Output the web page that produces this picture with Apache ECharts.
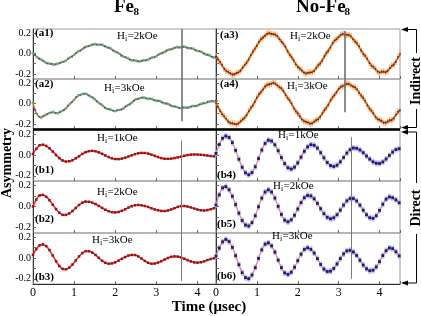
<!DOCTYPE html>
<html><head><meta charset="utf-8">
<script src="https://cdn.jsdelivr.net/npm/echarts@6/dist/echarts.min.js"></script>
<style>html,body{margin:0;padding:0;background:#fff}#c{width:421px;height:316px}</style>
</head><body><div id="c"></div>
<script>
// ---- time grids (µsec) ----
const tFit=[0,0.1,0.2,0.3,0.4,0.5,0.6,0.7,0.8,0.9,1,1.1,1.2,1.3,1.4,1.5,1.6,1.7,1.8,1.9,2,2.1,2.2,2.3,2.4,2.5,2.6,2.7,2.8,2.9,3,3.1,3.2,3.3,3.4,3.5,3.6,3.7,3.8,3.9,4,4.1,4.2,4.3,4.4,4.5];
const tOff=[0.05,0.15,0.25,0.35,0.45,0.55,0.65,0.75,0.85,0.95,1.05,1.15,1.25,1.35,1.45,1.55,1.65,1.75,1.85,1.95,2.05,2.15,2.25,2.35,2.45,2.55,2.65,2.75,2.85,2.95,3.05,3.15,3.25,3.35,3.45,3.55,3.65,3.75,3.85,3.95,4.05,4.15,4.25,4.35,4.45];
const tB=[0,0.08,0.16,0.24,0.32,0.4,0.48,0.56,0.64,0.72,0.8,0.88,0.96,1.04,1.12,1.2,1.28,1.36,1.44,1.52,1.6,1.68,1.76,1.84,1.92,2,2.08,2.16,2.24,2.32,2.4,2.48,2.56,2.64,2.72,2.8,2.88,2.96,3.04,3.12,3.2,3.28,3.36,3.44,3.52,3.6,3.68,3.76,3.84,3.92,4,4.08,4.16,4.24,4.32,4.4,4.48];
const xTicks=[0,1,2,3,4];
const yTicks=[-0.2,0,0.2];
const fieldLabels=['1kOe','2kOe','3kOe'];

// ---- Fe8, indirect ----
const a1Fit=[0,-0.034,-0.063,-0.086,-0.101,-0.106,-0.101,-0.088,-0.067,-0.041,-0.012,0.017,0.044,0.066,0.081,0.088,0.088,0.079,0.064,0.043,0.020,-0.005,-0.028,-0.048,-0.063,-0.072,-0.075,-0.070,-0.059,-0.043,-0.024,-0.004,0.017,0.034,0.049,0.059,0.063,0.061,0.054,0.042,0.028,0.011,-0.007,-0.023,-0.036,-0.046];
const a1Green=[0.003,-0.040,-0.057,-0.089,-0.096,-0.112,-0.099,-0.082,-0.072,-0.038,-0.016,0.022,0.041,0.070,0.078,0.093,0.085,0.083,0.059,0.047,0.016,-0.001,-0.033,-0.045,-0.068,-0.069,-0.080,-0.066,-0.063,-0.039,-0.028,0.001,0.013,0.038,0.045,0.064,0.059,0.066,0.050,0.047,0.024,0.015,-0.011,-0.019,-0.041,-0.042];
const a1Blue=[-0.014,-0.053,-0.071,-0.098,-0.101,-0.108,-0.091,-0.081,-0.050,-0.031,0.006,0.027,0.059,0.071,0.089,0.086,0.088,0.069,0.057,0.028,0.011,-0.021,-0.035,-0.060,-0.065,-0.078,-0.070,-0.068,-0.047,-0.037,-0.010,0.003,0.030,0.039,0.058,0.057,0.067,0.055,0.052,0.031,0.024,-0.002,-0.012,-0.034,-0.038];
const a2Fit=[0.005,-0.110,-0.135,-0.115,-0.090,-0.088,-0.093,-0.078,-0.045,-0.005,0.040,0.075,0.094,0.090,0.070,0.040,0.008,-0.025,-0.050,-0.065,-0.071,-0.065,-0.045,-0.020,0.010,0.038,0.053,0.055,0.048,0.040,0.030,0.018,0.005,-0.010,-0.025,-0.038,-0.043,-0.042,-0.036,-0.028,-0.018,-0.006,0.006,0.016,0.022,0.025];
const a2Green=[0.008,-0.104,-0.140,-0.111,-0.094,-0.083,-0.097,-0.074,-0.049,-0.001,0.036,0.079,0.091,0.095,0.066,0.044,0.004,-0.021,-0.054,-0.061,-0.075,-0.062,-0.049,-0.016,0.006,0.042,0.050,0.059,0.044,0.044,0.026,0.022,0.001,-0.006,-0.029,-0.034,-0.047,-0.038,-0.040,-0.024,-0.022,-0.002,0.003,0.021,0.019,0.029];
const a2Blue=[-0.063,-0.131,-0.123,-0.106,-0.086,-0.094,-0.083,-0.066,-0.021,0.014,0.062,0.082,0.097,0.078,0.060,0.020,-0.005,-0.042,-0.055,-0.072,-0.066,-0.060,-0.029,-0.009,0.028,0.043,0.058,0.049,0.048,0.031,0.028,0.009,0.001,-0.022,-0.028,-0.045,-0.039,-0.043,-0.028,-0.026,-0.008,0.006,0.018,0.027,0.031];

// ---- No-Fe8, indirect ----
const a3Fit=[-0.021,-0.089,-0.146,-0.185,-0.202,-0.196,-0.166,-0.117,-0.055,0.014,0.080,0.137,0.178,0.197,0.193,0.166,0.121,0.060,-0.007,-0.072,-0.128,-0.171,-0.192,-0.190,-0.167,-0.121,-0.064,0.000,0.064,0.122,0.165,0.187,0.187,0.164,0.123,0.065,0.001,-0.057,-0.114,-0.157,-0.181,-0.184,-0.165,-0.127,-0.074,-0.013];
const a3PtsA=[-0.028,-0.083,-0.152,-0.180,-0.209,-0.190,-0.171,-0.111,-0.061,0.019,0.074,0.142,0.172,0.203,0.188,0.172,0.115,0.066,-0.013,-0.066,-0.135,-0.165,-0.199,-0.184,-0.173,-0.114,-0.070,0.006,0.057,0.129,0.158,0.194,0.180,0.171,0.116,0.072,-0.006,-0.050,-0.122,-0.149,-0.190,-0.176,-0.174,-0.118,-0.083,-0.004];
const a3PtsB=[-0.058,-0.113,-0.171,-0.191,-0.206,-0.186,-0.139,-0.092,-0.017,0.043,0.115,0.155,0.194,0.192,0.187,0.140,0.097,0.022,-0.035,-0.106,-0.146,-0.188,-0.187,-0.185,-0.140,-0.100,-0.027,0.026,0.101,0.139,0.184,0.183,0.184,0.138,0.102,0.027,-0.022,-0.094,-0.129,-0.180,-0.176,-0.186,-0.139,-0.112,-0.033];
const a4Fit=[0.000,-0.069,-0.129,-0.174,-0.199,-0.201,-0.179,-0.138,-0.080,-0.014,0.054,0.115,0.163,0.191,0.198,0.181,0.144,0.090,0.027,-0.040,-0.101,-0.152,-0.183,-0.194,-0.182,-0.150,-0.100,-0.039,0.026,0.087,0.139,0.174,0.189,0.182,0.154,0.109,0.051,-0.013,-0.074,-0.127,-0.165,-0.183,-0.181,-0.157,-0.116,-0.061];
const a4PtsA=[0.004,-0.074,-0.123,-0.179,-0.193,-0.207,-0.173,-0.143,-0.074,-0.020,0.059,0.109,0.169,0.186,0.204,0.176,0.150,0.084,0.033,-0.046,-0.095,-0.158,-0.177,-0.200,-0.176,-0.156,-0.094,-0.045,0.032,0.081,0.145,0.168,0.195,0.176,0.160,0.103,0.057,-0.019,-0.068,-0.133,-0.159,-0.190,-0.174,-0.164,-0.109,-0.068];
const a4PtsB=[-0.031,-0.105,-0.148,-0.193,-0.197,-0.198,-0.155,-0.115,-0.042,0.015,0.091,0.136,0.185,0.192,0.198,0.158,0.124,0.053,-0.001,-0.077,-0.122,-0.175,-0.185,-0.196,-0.161,-0.132,-0.064,-0.013,0.063,0.108,0.164,0.178,0.194,0.164,0.139,0.074,0.026,-0.050,-0.094,-0.155,-0.169,-0.193,-0.162,-0.149,-0.079];

// ---- direct (b panels) ----
const b1=[0.010,0.060,0.093,0.099,0.087,0.064,0.033,0.000,-0.030,-0.053,-0.063,-0.060,-0.050,-0.032,-0.012,0.010,0.027,0.037,0.040,0.035,0.025,0.011,-0.005,-0.020,-0.032,-0.039,-0.040,-0.035,-0.027,-0.015,-0.003,0.008,0.016,0.020,0.019,0.013,0.003,-0.009,-0.020,-0.030,-0.036,-0.037,-0.035,-0.030,-0.023,-0.016,-0.008,-0.001,0.003,0.005,0.004,0.002,-0.001,-0.005,-0.010,-0.013];
const b2=[0.000,0.065,0.104,0.109,0.092,0.059,0.017,-0.025,-0.059,-0.079,-0.079,-0.066,-0.043,-0.014,0.014,0.036,0.046,0.044,0.036,0.023,0.005,-0.013,-0.031,-0.045,-0.054,-0.056,-0.052,-0.041,-0.027,-0.011,0.002,0.011,0.014,0.011,0.004,-0.005,-0.017,-0.028,-0.036,-0.042,-0.043,-0.038,-0.028,-0.016,-0.004,0.003,0.004,-0.001,-0.009,-0.020,-0.029,-0.036,-0.038,-0.034,-0.026,-0.017];
const b3=[0.030,0.085,0.122,0.130,0.114,0.076,0.024,-0.031,-0.077,-0.105,-0.109,-0.093,-0.063,-0.024,0.015,0.047,0.065,0.065,0.052,0.029,0.001,-0.027,-0.047,-0.055,-0.052,-0.042,-0.026,-0.008,0.009,0.023,0.029,0.028,0.015,-0.006,-0.028,-0.046,-0.055,-0.053,-0.044,-0.031,-0.015,0.000,0.011,0.015,0.013,0.005,-0.007,-0.021,-0.033,-0.042,-0.045,-0.041,-0.032,-0.020,-0.010,-0.003];
const b4=[0.015,0.100,0.160,0.182,0.168,0.119,0.044,-0.041,-0.118,-0.171,-0.190,-0.169,-0.113,-0.034,0.047,0.111,0.142,0.134,0.098,0.041,-0.025,-0.083,-0.123,-0.135,-0.117,-0.076,-0.021,0.035,0.078,0.099,0.093,0.066,0.022,-0.027,-0.072,-0.102,-0.111,-0.098,-0.066,-0.024,0.018,0.051,0.067,0.064,0.048,0.022,-0.010,-0.040,-0.066,-0.080,-0.082,-0.067,-0.039,-0.005,0.028,0.052,0.060];
const b5=[0.014,0.110,0.175,0.187,0.157,0.096,0.018,-0.063,-0.132,-0.175,-0.184,-0.152,-0.087,-0.003,0.078,0.136,0.157,0.136,0.079,0.001,-0.075,-0.129,-0.145,-0.126,-0.083,-0.024,0.036,0.082,0.104,0.099,0.072,0.029,-0.021,-0.068,-0.102,-0.116,-0.107,-0.078,-0.034,0.013,0.053,0.075,0.075,0.052,0.012,-0.035,-0.078,-0.106,-0.112,-0.087,-0.037,0.021,0.069,0.090,0.082,0.062,0.035];
const b6=[0.019,0.095,0.155,0.178,0.158,0.102,0.022,-0.065,-0.141,-0.189,-0.199,-0.164,-0.093,-0.004,0.078,0.133,0.145,0.116,0.056,-0.021,-0.093,-0.143,-0.158,-0.137,-0.089,-0.026,0.036,0.082,0.098,0.084,0.047,-0.006,-0.062,-0.107,-0.130,-0.127,-0.101,-0.057,-0.006,0.039,0.068,0.074,0.058,0.024,-0.022,-0.068,-0.104,-0.122,-0.118,-0.086,-0.035,0.023,0.070,0.096,0.090,0.060,0.020];

// ---- layout / style ----
const serif='"Liberation Serif","Times New Roman",serif';
const rows=[[29,50],[79,50],[130,51],[181,52],[233,51]];
const cols=[[33,183,4.45],[216,184,4.5]];
const panels=[
 {kind:'aL',col:0,row:0,fit:a1Fit,p:a1Green,q:a1Blue,tag:'(a1)',tx:35,ty:33,h:1,hx:117,hy:36,mx:3.61,my:[0.24,-0.25],mw:1.6},
 {kind:'aL',col:0,row:1,fit:a2Fit,p:a2Green,q:a2Blue,tag:'(a2)',tx:35,ty:84,h:2,hx:104,hy:88,mx:3.61,my:[0.24,-0.175],mw:1.6},
 {kind:'bL',col:0,row:2,v:b1,tag:'(b1)',tx:35,ty:170,h:0,hx:97,hy:138,mx:3.61,my:[0.14,-0.25],mw:1},
 {kind:'bL',col:0,row:3,v:b2,tag:'(b2)',tx:35,ty:219,h:1,hx:97,hy:192,mx:3.61,my:[0.24,-0.25],mw:1},
 {kind:'bL',col:0,row:4,v:b3,tag:'(b3)',tx:35,ty:277,h:2,hx:92,hy:240,mx:3.61,my:[0.24,-0.22],mw:1},
 {kind:'aR',col:1,row:0,fit:a3Fit,p:a3PtsA,q:a3PtsB,tag:'(a3)',tx:220,ty:35,h:1,hx:290,hy:36,mx:3.16,my:[0.22,-0.25],mw:1.6},
 {kind:'aR',col:1,row:1,fit:a4Fit,p:a4PtsA,q:a4PtsB,tag:'(a4)',tx:220,ty:84,h:2,hx:287,hy:86,mx:3.16,my:[0.24,-0.085],mw:1.6},
 {kind:'bR',col:1,row:2,v:b4,tag:'(b4)',tx:217,ty:175,h:0,hx:278,hy:135,mx:3.3,my:[0.17,-0.25],mw:1},
 {kind:'bR',col:1,row:3,v:b5,tag:'(b5)',tx:217,ty:224,h:1,hx:273,hy:186,mx:3.3,my:[0.24,-0.25],mw:1},
 {kind:'bR',col:1,row:4,v:b6,tag:'(b6)',tx:217,ty:276,h:2,hx:272,hy:236,mx:3.3,my:[0.24,-0.2],mw:1}
];
const pts=(t,v)=>v.map((y,i)=>[t[i],y]);

const grid=[],xAxis=[],yAxis=[],series=[],graphic=[];
function txt(x,y,text,font,align,extra){
  return Object.assign({type:'text',x:x,y:y,z:100,silent:true,style:{text:text,font:font,fill:'#000',align:align||'left',verticalAlign:'middle',textAlign:align||'left',textVerticalAlign:'middle'}},extra||{});
}
function line(x1,y1,x2,y2,w){return {type:'line',z:100,silent:true,shape:{x1:x1,y1:y1,x2:x2,y2:y2},style:{stroke:'#000',lineWidth:w||1}};}
function arrow(x,y){return {type:'polygon',z:100,silent:true,shape:{points:[[x,y],[x+7,y-2.6],[x+7,y+2.6]]},style:{fill:'#000'}};}

panels.forEach((p,i)=>{
  const [top,h]=rows[p.row]; const [left,w,max]=cols[p.col];
  grid.push({left:left,top:top,width:w,height:h,show:true,borderColor:'#9c9c9c',borderWidth:1});
  xAxis.push({type:'value',gridIndex:i,min:0,max:max,interval:1,position:'bottom',
    axisLine:{show:p.row===4,onZero:false,lineStyle:{color:'#333'}},
    axisTick:{show:true,inside:true,length:3,lineStyle:{color:'#666'}},
    axisLabel:{show:p.row===4,customValues:xTicks,fontFamily:serif,fontSize:12,color:'#000',margin:3},
    splitLine:{show:false}});
  yAxis.push({type:'value',gridIndex:i,min:-0.25,max:0.24,position:'left',
    axisLine:{show:true,onZero:false,lineStyle:{color:'#333'}},
    axisTick:{show:true,inside:true,length:3,customValues:[-0.2,-0.1,0,0.1,0.2],lineStyle:{color:'#666'}},
    axisLabel:{show:p.col===0,customValues:yTicks,formatter:v=>v.toFixed(1),fontFamily:serif,fontSize:10,color:'#000',margin:2},
    splitLine:{show:false}});
  const mark={silent:true,symbol:['none','none'],label:{show:false},animation:false,
    lineStyle:{color:p.mw>1?'#707070':'#7a7a7a',width:p.mw,type:'solid'},
    data:[[{coord:[p.mx,p.my[0]]},{coord:[p.mx,p.my[1]]}]]};
  const ax={xAxisIndex:i,yAxisIndex:i};
  if(p.kind==='aL'){
    series.push(Object.assign({type:'line',data:pts(tFit,p.fit),smooth:0.35,showSymbol:false,lineStyle:{color:'#e8603a',width:1.5},z:2,markLine:mark},ax));
    series.push(Object.assign({type:'scatter',data:pts(tOff,p.q),symbolSize:2.2,itemStyle:{color:'#2f48b0'},z:3},ax));
    series.push(Object.assign({type:'scatter',data:pts(tFit,p.p),symbolSize:2.8,itemStyle:{color:'#3dbb62'},z:4},ax));
  } else if(p.kind==='aR'){
    series.push(Object.assign({type:'scatter',data:pts(tFit,p.p).concat(pts(tOff,p.q)),symbol:'rect',symbolSize:[1.6,6],itemStyle:{color:'#f2a262'},z:1},ax));
    series.push(Object.assign({type:'line',data:pts(tFit,p.fit),smooth:0.35,showSymbol:false,lineStyle:{color:'#d4560e',width:1.5},z:2,markLine:mark},ax));
    series.push(Object.assign({type:'scatter',data:pts(tFit,p.p).concat(pts(tOff,p.q)),symbolSize:1.8,itemStyle:{color:'#3a1c08'},z:3},ax));
  } else if(p.kind==='bL'){
    series.push(Object.assign({type:'line',data:pts(tB,p.v),smooth:0.4,showSymbol:true,showAllSymbol:true,symbol:'rect',symbolSize:2.5,
      lineStyle:{color:'#e03434',width:1.6},itemStyle:{color:'#9a1010'},z:3,markLine:mark},ax));
  } else {
    series.push(Object.assign({type:'scatter',data:pts(tB,p.v),symbol:'rect',symbolSize:[3,6],itemStyle:{color:'#aeb2f2'},z:1},ax));
    series.push(Object.assign({type:'line',data:pts(tB,p.v),smooth:0.4,showSymbol:true,showAllSymbol:true,symbol:'rect',symbolSize:2.8,
      lineStyle:{color:'#f07a7a',width:1.2},itemStyle:{color:'#1c1c6e'},z:3,markLine:mark},ax));
  }
  // panel tag and field label
  graphic.push(txt(p.tx,p.ty,p.tag,'bold 11px '+serif));
  graphic.push(txt(p.hx,p.hy,'H','11px '+serif));
  graphic.push(txt(p.hx+8,p.hy+3,'i','8px '+serif));
  graphic.push(txt(p.hx+10.5,p.hy,'='+fieldLabels[p.h],'11px '+serif));
});

// titles and axis names
graphic.push(txt(114,7,'Fe','bold 19px '+serif));
graphic.push(txt(133.5,12,'8','bold 11px '+serif));
graphic.push(txt(296,7,'No-Fe','bold 19px '+serif));
graphic.push(txt(344.5,12,'8','bold 11px '+serif));
graphic.push(txt(7,163,'Asymmetry','bold 14px '+serif,'center',{rotation:Math.PI/2}));
graphic.push(txt(209,307,'Time (\u03bcsec)','bold 15px '+serif,'center'));
// thick separator between indirect and direct rows
graphic.push(line(33,129.5,400,129.5,2.6));
// right-hand brackets
graphic.push(txt(416,81,'Indirect','bold 14px '+serif,'center',{rotation:Math.PI/2}));
graphic.push(txt(416,208,'Direct','bold 14px '+serif,'center',{rotation:Math.PI/2}));
graphic.push(arrow(401,29.5),line(407,29.5,416.5,29.5),line(416.5,29.5,416.5,53));
graphic.push(line(416.5,109,416.5,127.5),line(407,127.5,416.5,127.5),arrow(401,127.5));
graphic.push(arrow(401,132),line(407,132,416.5,132),line(416.5,132,416.5,183));
graphic.push(line(416.5,234,416.5,283),line(407,283,416.5,283),arrow(401,283));

const chart=echarts.init(document.getElementById('c'),null,{renderer:'canvas'});
chart.setOption({animation:false,backgroundColor:'#fff',grid:grid,xAxis:xAxis,yAxis:yAxis,series:series,graphic:{elements:graphic}});
</script></body></html>
